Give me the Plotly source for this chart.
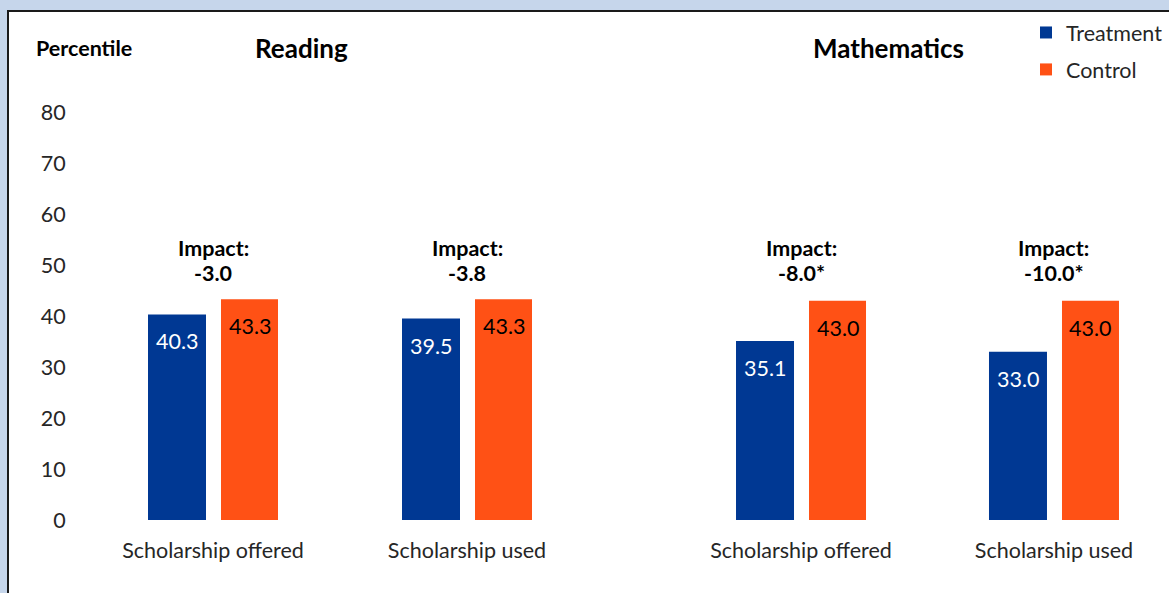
import plotly.graph_objects as go

categories = ["Scholarship offered", "Scholarship used", "Scholarship offered", "Scholarship used"]
cat_pos = [1.0, 2.0, 3.315, 4.311]
treatment = [40.3, 39.5, 35.1, 33.0]
control = [43.3, 43.3, 43.0, 43.0]
impacts = ["-3.0", "-3.8", "-8.0*", "-10.0*"]
subjects = ["Reading", "Mathematics"]
y_ticks = [0, 10, 20, 30, 40, 50, 60, 70, 80]

BLUE = "#003893"
ORANGE = "#FF5115"
BG = "#C6D6EB"
TXT = "#262626"
FONT = "Lato"

W, H = 1169, 593
L, R, T, B = 85, 19, 112, 73
pw = W - L - R
ph = H - T - B
UNIT = 254.0  # pixels per x unit


def px_to_py(py):
    return (H - B - py) / ph


def px_to_px(px):
    return (px - L) / pw


fig = go.Figure()
fig.add_trace(go.Bar(x=cat_pos, y=treatment, name="Treatment", marker_color=BLUE,
                     marker_line_width=0, offset=-65 / UNIT, width=58 / UNIT,
                     legendgroup="t"))
fig.add_trace(go.Bar(x=cat_pos, y=control, name="Control", marker_color=ORANGE,
                     marker_line_width=0, offset=8 / UNIT, width=57 / UNIT,
                     legendgroup="c"))

ann = []
for i, p in enumerate(cat_pos):
    ann.append(dict(x=p + (-65 + 29) / UNIT, y=treatment[i], text=f"{treatment[i]:.1f}",
                    showarrow=False, yanchor="top", yshift=-12, xanchor="center",
                    font=dict(color="white", size=21.5, family=FONT)))
    ann.append(dict(x=p + (8 + 28.5) / UNIT, y=control[i], text=f"{control[i]:.1f}",
                    showarrow=False, yanchor="top", yshift=-12, xanchor="center",
                    font=dict(color="black", size=21.5, family=FONT)))
    ann.append(dict(x=p, y=53.3, text="<b>Impact:</b>", showarrow=False,
                    yanchor="middle", xanchor="center",
                    font=dict(color="black", size=21.5, family=FONT)))
    ann.append(dict(x=p, y=48.4, text=f"<b>{impacts[i]}</b>", showarrow=False,
                    yanchor="middle", xanchor="center",
                    font=dict(color="black", size=21.5, family=FONT)))

# subject titles and axis title
ann.append(dict(xref="paper", yref="paper", x=px_to_px(301), y=px_to_py(48),
                text=f"<b>{subjects[0]}</b>", showarrow=False, yanchor="middle",
                xanchor="center", font=dict(size=26, color="black", family=FONT)))
ann.append(dict(xref="paper", yref="paper", x=px_to_px(888), y=px_to_py(48),
                text=f"<b>{subjects[1]}</b>", showarrow=False, yanchor="middle",
                xanchor="center", font=dict(size=26, color="black", family=FONT)))
ann.append(dict(xref="paper", yref="paper", x=px_to_px(84), y=px_to_py(48),
                text="<b>Percentile</b>", showarrow=False, yanchor="middle",
                xanchor="center", font=dict(size=21.5, color="black", family=FONT)))

shapes = [dict(type="rect", xref="paper", yref="paper",
               x0=px_to_px(8), x1=px_to_px(W + 20), y0=px_to_py(H + 20), y1=px_to_py(11),
               fillcolor="white", line=dict(color="#1a1a1a", width=2), layer="below")]

fig.update_layout(
    width=W, height=H,
    margin=dict(l=L, r=R, t=T, b=B, autoexpand=False),
    paper_bgcolor=BG,
    plot_bgcolor="rgba(0,0,0,0)",
    barmode="overlay",
    font=dict(family=FONT, color=TXT, size=21.5),
    annotations=ann,
    shapes=shapes,
    showlegend=True,
    legend=dict(x=px_to_px(1026), y=px_to_py(12), xanchor="left", yanchor="top",
                font=dict(size=21.5, color=TXT, family=FONT),
                bgcolor="rgba(0,0,0,0)", tracegroupgap=6, itemwidth=30,
                traceorder="grouped"),
    xaxis=dict(range=[1 - (213 - L) / UNIT, 1 + (W - R - 213) / UNIT],
               tickvals=cat_pos, ticktext=categories, showgrid=False, zeroline=False,
               showline=False, ticks="outside", ticklen=11, tickcolor="rgba(0,0,0,0)",
               tickfont=dict(size=21.5, color=TXT, family=FONT)),
    yaxis=dict(range=[0, 80], tickvals=y_ticks, showgrid=False, zeroline=False,
               showline=False, ticks="outside", ticklen=14, tickcolor="rgba(0,0,0,0)",
               tickfont=dict(size=21.5, color=TXT, family=FONT)),
)

fig.write_html(
    "out.html",
    config={"displayModeBar": False},
    post_script="document.body.style.margin='0';document.body.style.background='" + BG + "';",
)
